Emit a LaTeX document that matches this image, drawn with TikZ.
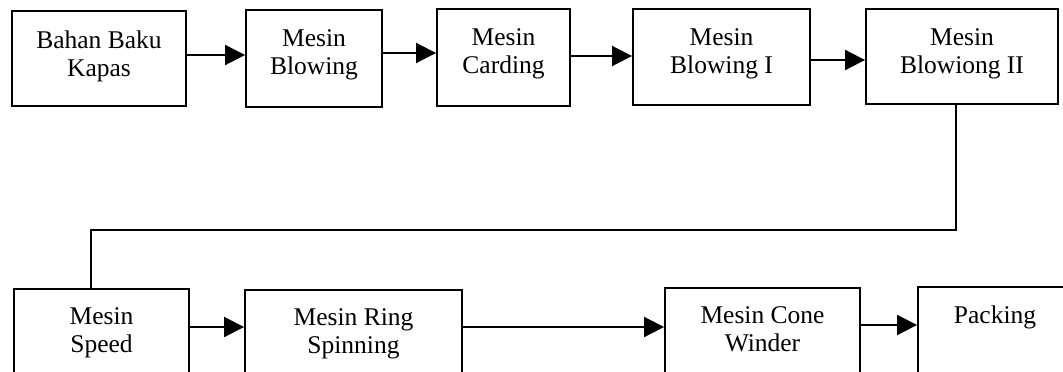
\documentclass[tikz,border=0pt]{standalone}
\usepackage{fontspec}
\setmainfont{Liberation Serif}
\usetikzlibrary{arrows.meta}
\begin{document}
\begin{tikzpicture}[x=1pt,y=-1pt,
  stage/.style={draw=black, line width=1.9pt, inner sep=0pt},
  caption/.style={anchor=north, align=center, inner sep=0pt,
    font=\fontsize{25.5}{28}\selectfont},
  flow/.style={line width=2pt, -{Triangle[length=20pt,width=20pt]}},
  link/.style={line width=2pt}]
\useasboundingbox (0,0) rectangle (1063,372);
\fill[white] (0,0) rectangle (1063,372);
\clip (0,0) rectangle (1063,372);

% upper row of machines
\node[stage, minimum width=174pt, minimum height=95pt] (b1) at (99,58.5) {};
\node[stage, minimum width=136pt, minimum height=97pt] (b2) at (314,58.5) {};
\node[stage, minimum width=133pt, minimum height=97pt] (b3) at (503.5,57.5) {};
\node[stage, minimum width=177pt, minimum height=96pt] (b4) at (721.5,57) {};
\node[stage, minimum width=192pt, minimum height=95pt] (b5) at (962,56.5) {};

% lower row of machines
\node[stage, minimum width=175pt, minimum height=121pt] (b6) at (101.5,349.5) {};
\node[stage, minimum width=217pt, minimum height=120pt] (b7) at (353.5,350) {};
\node[stage, minimum width=195pt, minimum height=122pt] (b8) at (762.5,349) {};
\node[stage, minimum width=154pt, minimum height=123pt] (b9) at (995,348.5) {};

% captions
\node[caption] (t1) at ([yshift=-20.5pt]b1.north) {Bahan Baku\\Kapas};
\node[caption] (t2) at ([yshift=-20.5pt]b2.north) {Mesin\\Blowing};
\node[caption] (t3) at ([yshift=-20.5pt]b3.north) {Mesin\\Carding};
\node[caption] (t4) at ([yshift=-20.5pt]b4.north) {Mesin\\Blowing I};
\node[caption] (t5) at ([yshift=-20.5pt]b5.north) {Mesin\\Blowiong II};
\node[caption] (t6) at ([yshift=-19.5pt]b6.north) {Mesin\\Speed};
\node[caption] (t7) at ([yshift=-19.5pt]b7.north) {Mesin Ring\\Spinning};
\node[caption] (t8) at ([yshift=-19.5pt]b8.north) {Mesin Cone\\Winder};
\node[caption] (t9) at ([yshift=-19.5pt]b9.north) {Packing};

% flow along the upper row
\draw[flow] ([yshift=3.5pt]b1.east) -- ([yshift=3.5pt]b1.east -| b2.west);
\draw[flow] ([yshift=5.5pt]b2.east) -- ([yshift=5.5pt]b2.east -| b3.west);
\draw[flow] ([yshift=1.5pt]b3.east) -- ([yshift=1.5pt]b3.east -| b4.west);
\draw[flow] ([yshift=-3pt]b4.east) -- ([yshift=-3pt]b4.east -| b5.west);

% return line down to the lower row
\coordinate (turnR) at (956,230);
\coordinate (turnL) at (91,230);
\draw[link] (turnR |- b5.south) -- (turnR) -- (turnL) -- (turnL |- b6.north);

% flow along the lower row
\draw[flow] (b6.east |- 0,327) -- (b7.west |- 0,327);
\draw[flow] (b7.east |- 0,327) -- (b8.west |- 0,327);
\draw[flow] (b8.east |- 0,325) -- (b9.west |- 0,325);
\end{tikzpicture}
\end{document}
